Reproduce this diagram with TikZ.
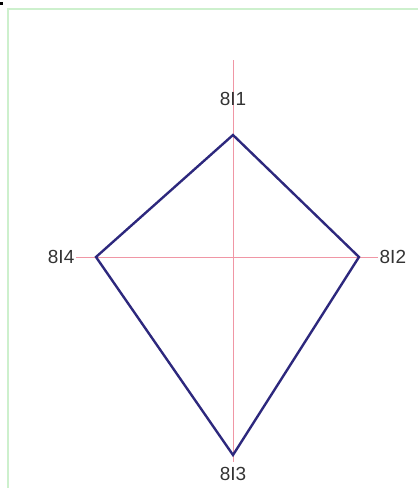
\documentclass[tikz,border=0pt]{standalone}
\usepackage{fontspec}
\setsansfont{Liberation Sans}
\definecolor{kiteblue}{RGB}{45,40,125}
\definecolor{axispink}{RGB}{240,150,165}
\definecolor{framegreen}{RGB}{205,240,205}
\begin{document}
\begin{tikzpicture}[x=0.025cm, y=-0.025cm, font=\sffamily\fontsize{13.5}{14}\selectfont,
          lbl/.style={inner sep=1pt, text=black!80},
          axis/.style={draw=axispink, line width=0.6pt},
          kite/.style={draw=kiteblue, line width=1.7pt, line join=miter}]
        \useasboundingbox (0,0) rectangle (418,488);
        % frame and corner mark
        \draw[framegreen, line width=0.8pt] (418,9) -- (8,9) -- (8,488);
        \fill[black] (0,2) rectangle (3,5);
        % corners of the kite
        \coordinate (v1) at (233,135);
        \coordinate (v2) at (359,257);
        \coordinate (v3) at (233,455);
        \coordinate (v4) at (96,257);
        \coordinate (ytop) at (233,60);
        \coordinate (ybot) at (233,462);
        % axes
        \draw[axis] (ytop) -- (ybot);
        \node[lbl] (l1) at (233,99) {8I1};
        \node[lbl, anchor=west] (l2) at (378,257) {8I2};
        \node[lbl] (l3) at (233,474) {8I3};
        \node[lbl, anchor=east] (l4) at (76,257) {8I4};
        \draw[axis] (l4.east) -- (l2.west);
        \draw[kite] (v1) -- (v2) -- (v3) -- (v4) -- cycle;
      \end{tikzpicture}
\end{document}
